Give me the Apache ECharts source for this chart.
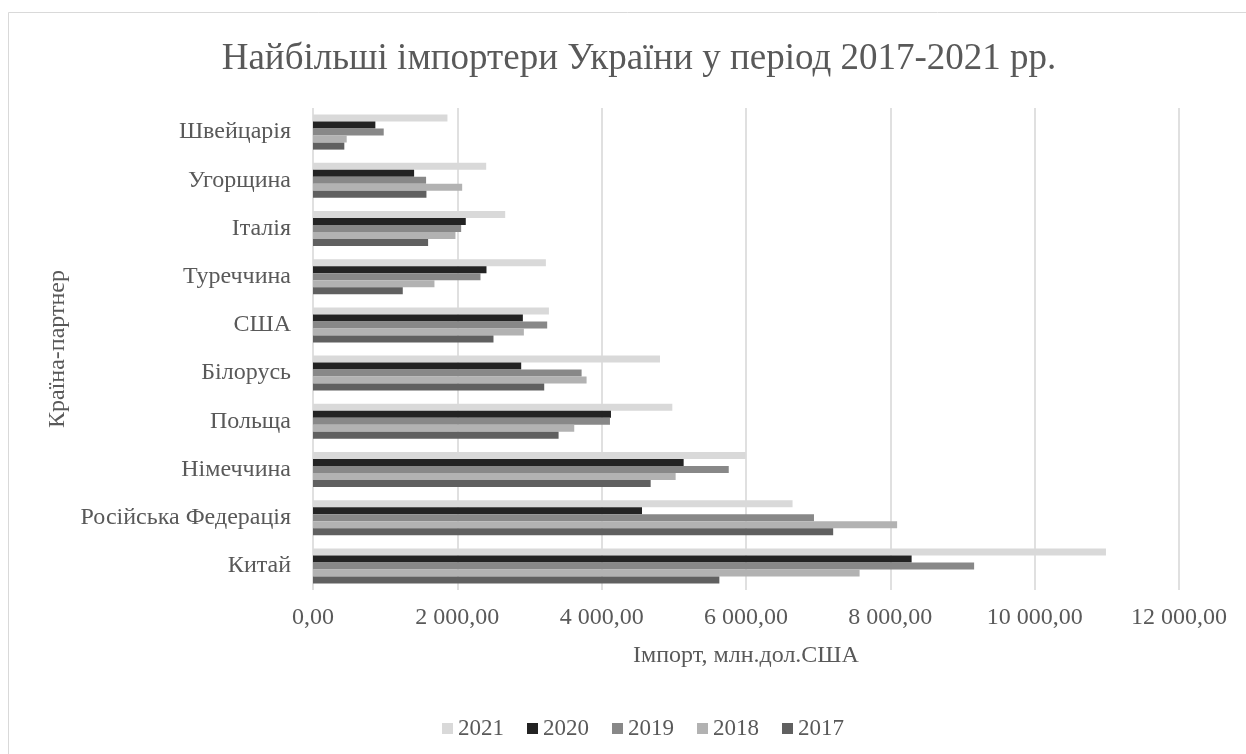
<!DOCTYPE html>
<html>
<head>
<meta charset="utf-8">
<script src="https://cdn.jsdelivr.net/npm/echarts@6/dist/echarts.min.js"></script>
<style>
  html, body { margin: 0; padding: 0; background: #ffffff; }
  #chart { width: 1246px; height: 754px; }
</style>
</head>
<body>
<div id="chart"></div>
<script>
// Countries, bottom to top on the category axis
const countries = ['Китай', 'Російська Федерація', 'Німеччина', 'Польща', 'Білорусь',
                   'США', 'Туреччина', 'Італія', 'Угорщина', 'Швейцарія'];

// Import, mln USD, per year (same order as countries)
const imp2021 = [10988, 6645, 5996, 4979, 4808, 3269, 3227, 2663, 2400, 1863];
const imp2020 = [8295, 4559, 5136, 4129, 2885, 2908, 2404, 2117, 1401, 864];
const imp2019 = [9161, 6942, 5761, 4115, 3722, 3245, 2321, 2053, 1567, 980];
const imp2018 = [7574, 8094, 5025, 3620, 3791, 2922, 1683, 1974, 2067, 467];
const imp2017 = [5631, 7208, 4679, 3403, 3204, 2501, 1244, 1595, 1572, 434];

const years = ['2021', '2020', '2019', '2018', '2017'];
const yearValues = [imp2021, imp2020, imp2019, imp2018, imp2017];
const yearColors = ['#d9d9d9', '#232323', '#888888', '#b2b2b2', '#606060'];

const FONT = '"Liberation Serif", "Times New Roman", serif';
const TEXT = '#595959';

// 2000 -> "2 000,00"
function fmt(v) {
  const s = v.toFixed(2).split('.');
  return s[0].replace(/\B(?=(\d{3})+(?!\d))/g, ' ') + ',' + s[1];
}

const chart = echarts.init(document.getElementById('chart'), null, { renderer: 'canvas' });

chart.setOption({
  animation: false,
  backgroundColor: '#ffffff',
  graphic: [{
    type: 'rect',
    shape: { x: 8.5, y: 12.5, width: 1260, height: 760 },
    style: { fill: 'none', stroke: '#d9d9d9', lineWidth: 1 },
    silent: true,
    z: -10
  }],
  title: {
    text: 'Найбільші імпортери України у період 2017-2021 рр.',
    left: 634,
    textAlign: 'center',
    top: 36,
    textStyle: { fontFamily: FONT, fontSize: 37, fontWeight: 'normal', color: TEXT }
  },
  legend: {
    data: years,
    left: 437,
    top: 712,
    icon: 'rect',
    itemWidth: 11,
    itemHeight: 11,
    itemGap: 23,
    textStyle: { fontFamily: FONT, fontSize: 23, color: TEXT }
  },
  grid: { left: 313, right: 67, top: 108, bottom: 164, containLabel: false },
  xAxis: {
    type: 'value',
    min: 0,
    max: 12000,
    interval: 2000,
    name: 'Імпорт, млн.дол.США',
    nameLocation: 'middle',
    nameGap: 54,
    nameTextStyle: { fontFamily: FONT, fontSize: 24, color: TEXT },
    axisLine: { show: false },
    axisTick: { show: false },
    axisLabel: {
      fontFamily: FONT, fontSize: 24, color: TEXT, margin: 16,
      formatter: fmt
    },
    splitLine: { show: true, lineStyle: { color: '#d9d9d9', width: 1.6 } }
  },
  yAxis: {
    type: 'category',
    data: countries,
    name: 'Країна-партнер',
    nameLocation: 'middle',
    nameRotate: 90,
    nameGap: 238,
    nameTextStyle: { fontFamily: FONT, fontSize: 24, color: TEXT },
    axisLine: { show: false },
    axisTick: { show: false },
    axisLabel: { fontFamily: FONT, fontSize: 24, color: TEXT, margin: 22 }
  },
  series: years.map((y, i) => ({
    name: y,
    type: 'bar',
    data: yearValues[i],
    barWidth: 7,
    barGap: '0%',
    itemStyle: { color: yearColors[i] }
  }))
});
</script>
</body>
</html>
